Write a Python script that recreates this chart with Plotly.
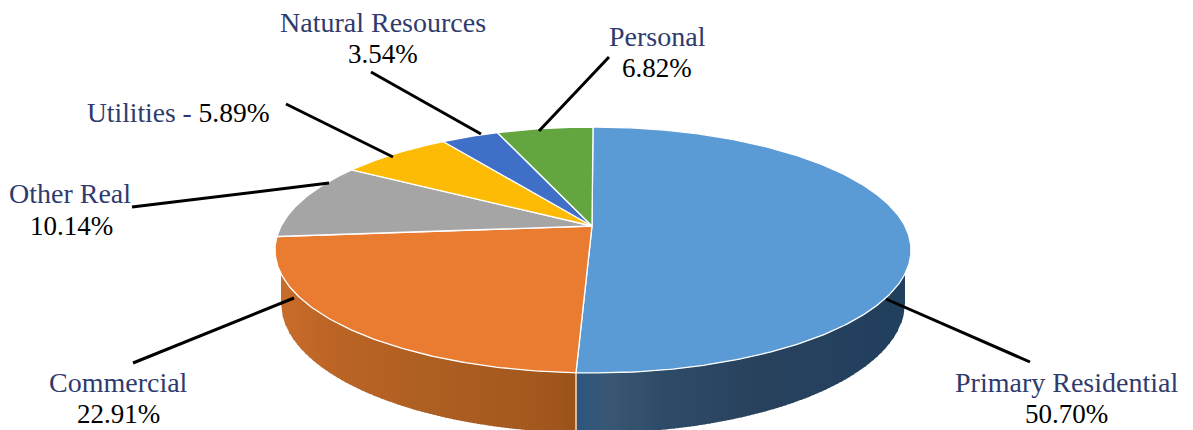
import numpy as np
import plotly.graph_objects as go

# Slice shares in the order drawn, clockwise from 12 o'clock.
slice_names = ["Primary Residential", "Commercial", "Other Real", "Utilities", "Natural Resources", "Personal"]
slice_shares = [50.70, 22.91, 10.14, 6.82, 3.54, 5.89]
slice_colors = ["#5B9BD5", "#E97C30", "#A5A5A5", "#FDBB05", "#3F6FC6", "#63A63F"]

# Printed labels
label_names = ["Natural Resources", "Personal", "Other Real", "Commercial", "Primary Residential"]
label_values = ["3.54%", "6.82%", "10.14%", "22.91%", "50.70%"]
label_name_xy = [(383, 22), (657, 36), (70, 193), (118, 382), (1066, 382)]
label_value_xy = [(383, 54), (657, 68), (71, 226), (118, 414), (1066, 414)]

leader_lines = [
    (609, 57, 539, 131),
    (371, 72, 481, 134),
    (286, 104, 393, 157),
    (132, 207, 329, 183),
    (133, 363, 294, 298),
    (886, 299, 1030, 362),
]

# Pie geometry (pixel-like axes)
CX, APEX_Y, B, A, K = 593, 226, 311.9, 118.3, 0.195
ELL_CY, ELL_RX, ELL_RY = 250, 318, 123
BOT_CX, BOT_CY, BOT_RX, BOT_RY = 593, 303, 312, 130
SPLIT_X = 576

ORANGE_STOPS = [(281, "#C96C2B"), (330, "#BC6526"), (430, "#AE5F22"), (520, "#A65A20"), (576, "#9C5319")]
BLUE_STOPS = [(576, "#2C5680"), (590, "#33567A"), (610, "#3A5873"), (660, "#2E4C69"), (760, "#28425D"), (906, "#21405F")]


def project(theta):
    u, v = np.sin(theta), np.cos(theta)
    d = 1 + K * v
    return CX + B * u / d, APEX_Y - A * v / d


def hex_rgb(h):
    return np.array([int(h[i:i + 2], 16) for i in (1, 3, 5)], float)


def ramp(stops, x):
    xs = [s[0] for s in stops]
    cols = np.array([hex_rgb(s[1]) for s in stops])
    c = [np.interp(x, xs, cols[:, i]) for i in range(3)]
    return "rgb(%d,%d,%d)" % tuple(c)


def top_edge(x):
    return ELL_CY + ELL_RY * np.sqrt(np.clip(1 - ((x - CX) / ELL_RX) ** 2, 0, 1))


def bot_edge(x):
    return BOT_CY + BOT_RY * np.sqrt(np.clip(1 - ((x - BOT_CX) / BOT_RX) ** 2, 0, 1))


fig = go.Figure()

# Side wall, as thin vertical strips so the shading can vary
STEP = 4
x_left, x_right = BOT_CX - BOT_RX, BOT_CX + BOT_RX
edges = np.arange(x_left, x_right + STEP, STEP)
for x0, x1 in zip(edges[:-1], edges[1:]):
    xa = np.linspace(x0, min(x1 + 1, x_right), 4)
    ys_top = top_edge(xa)
    ys_bot = np.maximum(bot_edge(xa), ys_top)
    mid = (x0 + x1) / 2
    col = ramp(ORANGE_STOPS if mid < SPLIT_X else BLUE_STOPS, mid)
    fig.add_trace(go.Scatter(
        x=np.r_[xa, xa[::-1], xa[0]], y=np.r_[ys_top, ys_bot[::-1], ys_top[0]],
        mode="lines", line=dict(width=0, color=col), fill="toself", fillcolor=col,
        hoverinfo="skip", showlegend=False))

# Seam in the wall between the two front slices
seam_top = top_edge(np.array([SPLIT_X]))[0]
fig.add_trace(go.Scatter(x=[SPLIT_X, SPLIT_X], y=[seam_top, 432], mode="lines",
                         line=dict(color="#E8DDD4", width=1.5), hoverinfo="skip", showlegend=False))

# Top face: wedges built from the shares
total = sum(slice_shares)
start = 0.0
for name, share, col in zip(slice_names, slice_shares, slice_colors):
    end = start + share / total * 2 * np.pi
    th = np.linspace(start, end, max(int(share * 6), 8))
    px, py = project(th)
    fig.add_trace(go.Scatter(
        x=np.r_[CX - 1, px, CX - 1], y=np.r_[APEX_Y, py, APEX_Y], name=name,
        mode="lines", line=dict(color="#FFFFFF", width=1.3), fill="toself", fillcolor=col,
        hoverinfo="name", showlegend=False))
    start = end

NAVY = "#2F3B6D"
FONT = "Liberation Serif"
NAME_FS = 28
VALUE_FS = 27
annotations = []
for t, (x, y) in zip(label_names, label_name_xy):
    annotations.append(dict(x=x, y=y, text=t, showarrow=False, xanchor="center", yanchor="middle",
                            font=dict(family=FONT, size=NAME_FS, color=NAVY)))
for t, (x, y) in zip(label_values, label_value_xy):
    annotations.append(dict(x=x, y=y, text=t, showarrow=False, xanchor="center", yanchor="middle",
                            font=dict(family=FONT, size=VALUE_FS, color="#000000")))
annotations.append(dict(x=178, y=112, showarrow=False, xanchor="center", yanchor="middle",
                        text="Utilities - <span style='color:#000000'>5.89%</span>",
                        font=dict(family=FONT, size=27.5, color=NAVY)))

shapes = [dict(type="line", x0=a, y0=b, x1=c, y1=d, xref="x", yref="y",
               line=dict(color="#000000", width=3)) for a, b, c, d in leader_lines]

fig.update_layout(
    width=1193, height=430, margin=dict(l=0, r=0, t=0, b=0),
    paper_bgcolor="#FFFFFF", plot_bgcolor="#FFFFFF", showlegend=False,
    xaxis=dict(range=[0, 1193], visible=False, fixedrange=True),
    yaxis=dict(range=[430, 0], visible=False, fixedrange=True),
    annotations=annotations, shapes=shapes,
)
fig.write_html("out.html", config=dict(displayModeBar=False),
               post_script="document.body.style.margin='0';document.body.style.overflow='hidden';")
